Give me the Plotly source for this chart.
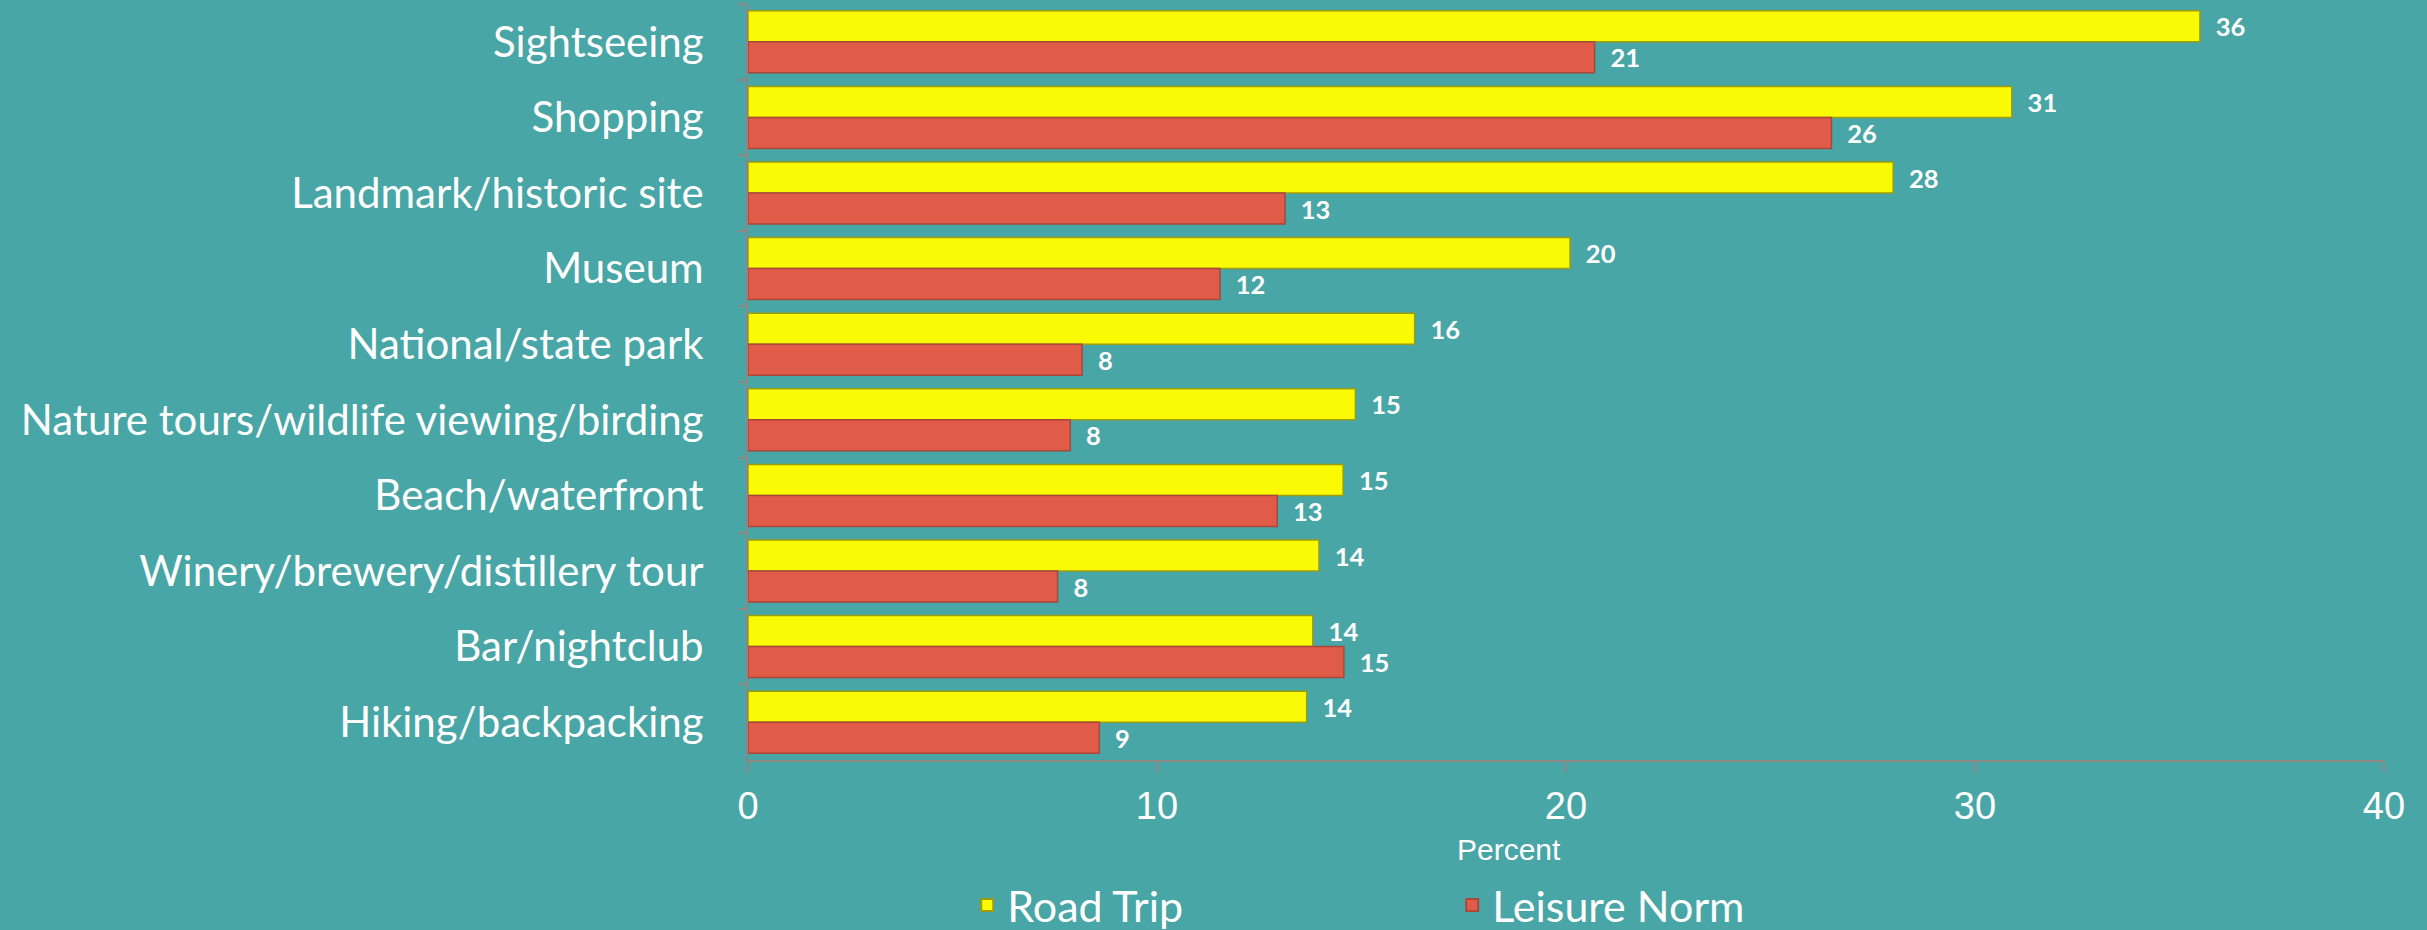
import plotly.graph_objects as go

categories = [
    "Sightseeing",
    "Shopping",
    "Landmark/historic site",
    "Museum",
    "National/state park",
    "Nature tours/wildlife viewing/birding",
    "Beach/waterfront",
    "Winery/brewery/distillery tour",
    "Bar/nightclub",
    "Hiking/backpacking",
]
road_trip = [35.5, 30.9, 28.0, 20.1, 16.3, 14.85, 14.55, 13.96, 13.81, 13.66]
leisure_norm = [20.7, 26.49, 13.13, 11.54, 8.17, 7.88, 12.94, 7.57, 14.57, 8.59]
road_trip_labels = [36, 31, 28, 20, 16, 15, 15, 14, 14, 14]
leisure_norm_labels = [21, 26, 13, 12, 8, 8, 13, 8, 15, 9]
x_ticks = [0, 10, 20, 30, 40]

BG = "#49A6A6"
AXIS = "#8E8585"

fig = go.Figure()
fig.add_trace(go.Bar(
    y=categories, x=road_trip, name="Road Trip", orientation="h",
    marker=dict(color="#FAFA05", line=dict(color="#9C9C10", width=1.5)),
    text=["\u2002" + str(v) for v in road_trip_labels],
    textposition="outside", cliponaxis=False,
    textfont=dict(family="Lato", size=28, color="white", weight="bold"),
    hoverinfo="x+y",
))
fig.add_trace(go.Bar(
    y=categories, x=leisure_norm, name="Leisure Norm", orientation="h",
    marker=dict(color="#E05B48", line=dict(color="#A8473A", width=1.5)),
    text=["\u2002" + str(v) for v in leisure_norm_labels],
    textposition="outside", cliponaxis=False,
    textfont=dict(family="Lato", size=28, color="white", weight="bold"),
    hoverinfo="x+y",
))

fig.update_layout(
    width=2427, height=930,
    paper_bgcolor=BG, plot_bgcolor=BG,
    barmode="group", bargap=0.18, bargroupgap=0.0,
    margin=dict(l=748, r=43, t=4, b=170, autoexpand=False),
    showlegend=True,
    legend=dict(
        orientation="h", x=0.134, xanchor="left", y=-0.192, yanchor="middle",
        font=dict(family="Lato", size=43, color="white"),
        entrywidth=440, entrywidthmode="pixels",
        bgcolor="rgba(0,0,0,0)", itemsizing="constant",
    ),
)
fig.update_xaxes(
    range=[0, 40], tickvals=x_ticks, ticktext=[str(v) for v in x_ticks],
    showgrid=False, zeroline=False,
    showline=True, linecolor=AXIS, linewidth=2,
    ticks="outside", ticklen=11, tickcolor=AXIS, tickwidth=2,
    tickfont=dict(family="Liberation Sans", size=38, color="white"),
    fixedrange=True,
)
fig.update_yaxes(
    autorange="reversed", type="category",
    showgrid=False, zeroline=False,
    showline=True, linecolor=AXIS, linewidth=2,
    ticks="outside", ticklen=8, tickcolor=AXIS, tickwidth=2,
    tickson="boundaries",
    tickfont=dict(family="Lato", size=42, color="white"),
    ticklabelstandoff=34,
    fixedrange=True,
)
fig.add_annotation(
    text="Percent", xref="paper", yref="paper",
    x=0.465, y=-0.118, xanchor="center", yanchor="middle",
    showarrow=False, font=dict(family="Liberation Sans", size=30, color="white"),
)

fig.write_html(
    "out.html",
    config={"displayModeBar": False},
    post_script="document.body.style.margin='0';document.body.style.overflow='hidden';",
)
